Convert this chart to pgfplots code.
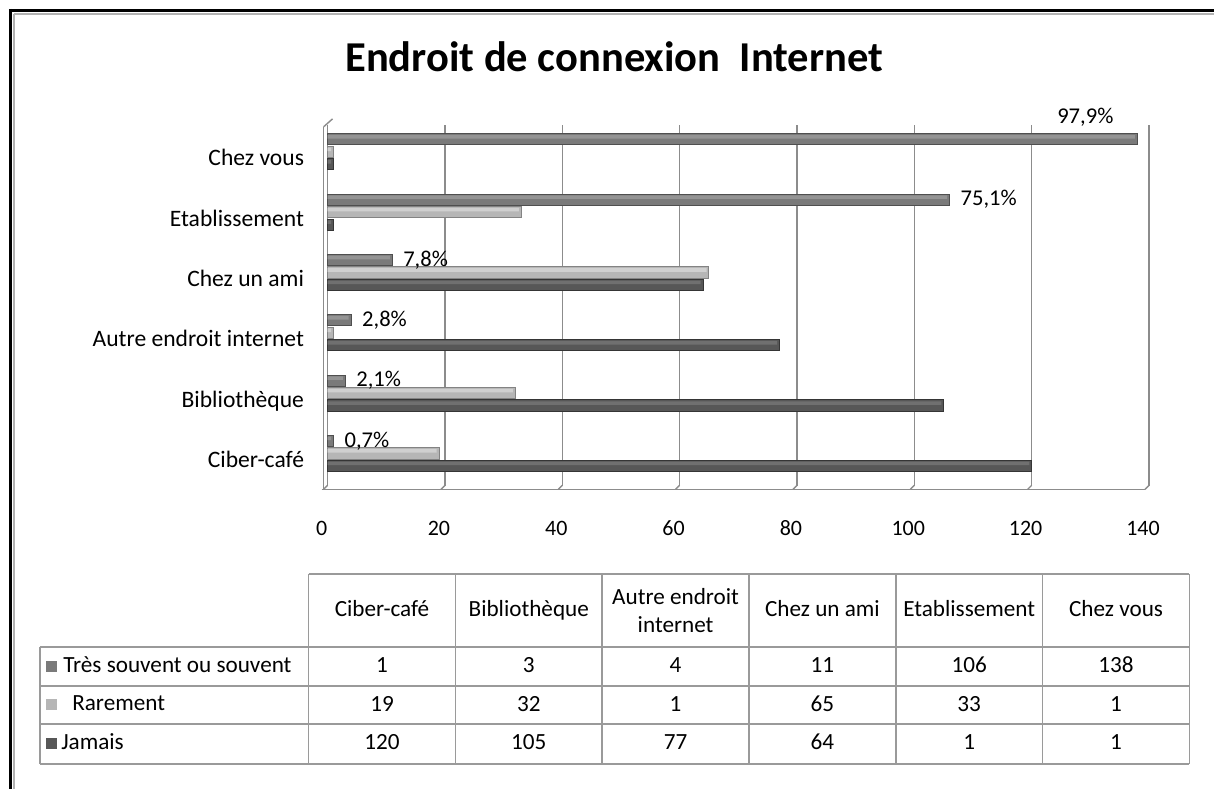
\documentclass[border=0pt]{standalone}
\usepackage{pgfplots}
\pgfplotsset{compat=1.18}
\usepackage{fontspec}
\setmainfont{Carlito}
\definecolor{cTres}{HTML}{7A7A7A}
\definecolor{cTresL}{HTML}{949494}
\definecolor{cTresD}{HTML}{4F4F4F}
\definecolor{cRare}{HTML}{B6B6B6}
\definecolor{cRareL}{HTML}{D0D0D0}
\definecolor{cRareD}{HTML}{838383}
\definecolor{cJam}{HTML}{575757}
\definecolor{cJamL}{HTML}{707070}
\definecolor{cJamD}{HTML}{353535}
\definecolor{gridc}{HTML}{8C8C8C}
\definecolor{tabc}{HTML}{9A9A9A}
\begin{document}
\begin{tikzpicture}
\begin{scope}[x=0.5pt,y=-0.5pt]
\path (0,0) rectangle (1216,790);
% frame
\draw[black,line width=1.6pt] (9,10.5) -- (1216,10.5);
\draw[black,line width=1.6pt] (10.5,9) -- (10.5,790);
\draw[gray!60,line width=0.8pt] (14,14) -- (1216,14);
\draw[gray!60,line width=0.8pt] (14,14) -- (14,790);
% title
\node[font=\bfseries\fontsize{21.3}{25}\selectfont] at (615,57) {Endroit de connexion\ \ Internet};
\end{scope}
\begin{axis}[
  at={(164pt,-243.5pt)}, anchor=south west,
  scale only axis, width=411.25pt, height=181pt,
  xmin=0, xmax=140, ymin=-0.546, ymax=5.447,
  xtick={0,20,...,140},
  ytick={0,...,5},
  yticklabels={Ciber-café,Bibliothèque,Autre endroit internet,Chez un ami,Etablissement,Chez vous},
  xbar, bar width=5.6pt,
  axis line style={draw=none},
  tick style={draw=none},
  xmajorgrids, grid style={gridc, line width=0.7pt},
  /pgf/number format/assume math mode=true,
  xticklabel style={font=\fontsize{11}{13}\selectfont, text height=1.5ex, text depth=0.25ex, yshift=-14pt, xshift=-3pt},
  yticklabel style={font=\fontsize{11.8}{14}\selectfont, text height=1.5ex, text depth=0.25ex, xshift=-4pt, yshift=-4pt},
  clip=false,
]
% Jamais
\addplot[bar shift=-6.25pt, draw=cJamD, line width=0.5pt, fill=cJam]
  coordinates {(120,0) (105,1) (77,2) (64,3) (1,4) (1,5)};
\addplot[bar shift=-5.0pt, bar width=1.8pt, draw=none, fill=cJamL]
  coordinates {(119.6,0) (104.6,1) (76.6,2) (63.6,3) (0.6,4) (0.6,5)};
% Rarement
\addplot[bar shift=0pt, draw=cRareD, line width=0.5pt, fill=cRare]
  coordinates {(19,0) (32,1) (1,2) (65,3) (33,4) (1,5)};
\addplot[bar shift=1.25pt, bar width=1.8pt, draw=none, fill=cRareL]
  coordinates {(18.6,0) (31.6,1) (0.6,2) (64.6,3) (32.6,4) (0.6,5)};
% Tres souvent
\addplot[bar shift=6.25pt, draw=cTresD, line width=0.5pt, fill=cTres,
  nodes near coords, point meta=explicit symbolic,
  nodes near coords style={anchor=west, xshift=2pt, text=black, font=\fontsize{11.3}{13}\selectfont}]
  coordinates {(1,0) [0,7\%] (3,1) [2,1\%] (4,2) [2,8\%] (11,3) [7,8\%] (106,4) [75,1\%] (138,5) []};
\addplot[bar shift=7.5pt, bar width=1.8pt, draw=none, fill=cTresL]
  coordinates {(0.6,0) (2.6,1) (3.6,2) (10.6,3) (105.6,4) (137.6,5)};
\node[font=\fontsize{11.3}{13}\selectfont] at (axis cs:138,5) [xshift=-26pt, yshift=17.5pt] {97,9\%};
\end{axis}
\begin{scope}[x=0.5pt,y=-0.5pt]
% 3D box hints
\draw[gridc, line width=0.7pt] (324,127) -- (324,490);
\draw[gridc, line width=0.7pt] (324,127) -- (333,119);
\draw[gridc, line width=0.7pt] (322,490) -- (1146,490);
\foreach \k in {0,...,7} {
  \draw[gridc, line width=0.7pt] ({328+117.5*\k},486) -- ({324+117.5*\k},490);
}
% table
\begin{scope}[tabc, line width=0.8pt]
\draw (309,575) -- (1191,575);
\foreach \yy in {648,687,725,765} \draw (40,\yy) -- (1191,\yy);
\draw (40,648) -- (40,765);
\foreach \xx in {309,456,603,750,897,1044,1191} \draw (\xx,575) -- (\xx,765);
\end{scope}
\begin{scope}[font=\fontsize{11.6}{14}\selectfont, every node/.style={text height=1.5ex, text depth=0.25ex}]
\node at (382.5,611) {Ciber-café};
\node at (529.5,611) {Bibliothèque};
\node[align=center, text height=, text depth=] at (676.5,611) {Autre endroit\\internet};
\node at (823.5,611) {Chez un ami};
\node at (970.5,611) {Etablissement};
\node at (1117.5,611) {Chez vous};
% legend squares
\fill[cTres] (46,662) rectangle (57,673);
\fill[cRare] (46,700) rectangle (57,711);
\fill[cJam] (46,739) rectangle (57,750);
\node[anchor=west, inner sep=0pt] at (63,667) {Très souvent ou souvent};
\node[anchor=west, inner sep=0pt] at (72,705) {Rarement};
\node[anchor=west, inner sep=0pt] at (61,745) {Jamais};
% values
\foreach \v [count=\i from 0] in {1,3,4,11,106,138} \node at ({382.5+147*\i},667) {\v};
\foreach \v [count=\i from 0] in {19,32,1,65,33,1} \node at ({382.5+147*\i},706) {\v};
\foreach \v [count=\i from 0] in {120,105,77,64,1,1} \node at ({382.5+147*\i},745) {\v};
\end{scope}
\end{scope}
\end{tikzpicture}
\end{document}
